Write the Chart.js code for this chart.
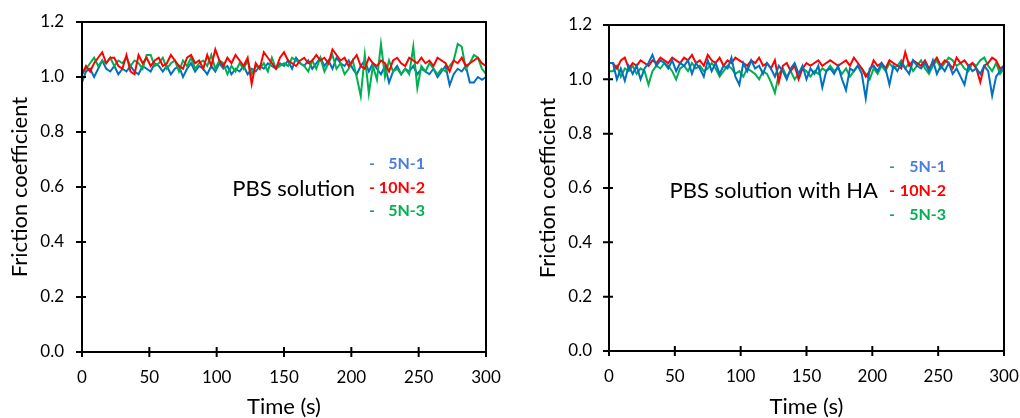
<!DOCTYPE html>
<html>
<head>
<meta charset="utf-8">
<script src="https://cdn.jsdelivr.net/npm/chart.js@4.4.1/dist/chart.umd.min.js"></script>
<style>
body { margin: 0; background: #fff; }
.wrap { display: flex; width: 1020px; height: 418px; }
canvas { display: block; }
</style>
</head>
<body>
<div class="wrap">
  <canvas id="chartPBS" width="510" height="418"></canvas>
  <canvas id="chartHA" width="510" height="418"></canvas>
</div>
<script>
// sampling times (s)
const time = [0,3,6,9,12,15,18,21,24,27,30,33,36,39,42,45,48,51,54,57,
  60,63,66,69,72,75,78,81,84,87,90,93,96,99,102,105,108,111,114,117,
  120,123,126,129,132,135,138,141,144,147,150,153,156,159,162,165,168,171,174,177,
  180,183,186,189,192,195,198,201,204,207,210,213,216,219,222,225,228,231,234,237,
  240,243,246,249,252,255,258,261,264,267,270,273,276,279,282,285,288,291,294,297,300];

const xTicks = [0, 50, 100, 150, 200, 250, 300];
const yTicks = [0, 0.2, 0.4, 0.6, 0.8, 1.0, 1.2];
const seriesNames = ['5N-1', '10N-2', '5N-3'];
const lineColors = ['#0070C0', '#FF0000', '#00B050'];
const keyColors = ['#4A7DE0', '#FF0000', '#00B050'];

// PBS solution
const pbs5N1 = [0.98,1.02,1.03,1.00,1.03,1.06,1.03,1.02,1.04,1.01,
  1.03,1.02,1.04,1.02,1.01,1.04,1.03,1.02,1.05,1.04,
  1.02,1.04,1.01,1.03,1.04,1.00,1.03,1.05,1.02,1.04,
  1.03,1.01,1.04,1.02,1.05,1.03,1.04,1.01,1.03,1.02,
  1.04,1.01,1.03,1.02,1.04,1.03,1.05,1.04,1.03,1.05,
  1.04,1.06,1.03,1.07,1.05,1.04,1.06,1.03,1.05,1.07,
  1.04,1.06,1.03,1.07,1.05,1.04,1.06,1.03,1.01,1.04,
  1.06,1.02,1.05,1.03,1.01,1.04,0.98,1.02,1.04,1.01,
  1.03,1.02,1.04,1.01,1.03,1.02,1.01,1.03,1.00,1.02,
  1.04,0.97,1.01,1.03,1.02,1.04,0.98,0.98,1.00,0.99,
  1.00];
const pbs10N2 = [1.01,1.04,1.02,1.05,1.07,1.09,1.05,1.07,1.07,1.04,
  1.03,1.08,1.02,1.01,1.08,1.05,1.07,1.04,1.06,1.07,
  1.04,1.05,1.08,1.06,1.04,1.03,1.07,1.08,1.05,1.06,
  1.03,1.08,1.04,1.10,1.06,1.04,1.07,1.05,1.08,1.06,
  1.04,1.07,0.975,1.05,1.03,1.09,1.07,1.05,1.03,1.07,
  1.09,1.06,1.05,1.04,1.06,1.07,1.05,1.06,1.08,1.06,
  1.07,1.05,1.10,1.08,1.06,1.07,1.04,1.06,1.08,1.04,
  1.03,1.07,1.05,1.04,1.06,1.05,1.02,1.06,1.07,1.05,
  1.04,1.07,1.06,1.05,1.07,1.05,1.06,1.04,1.07,1.06,
  1.05,1.02,1.06,1.05,1.07,1.04,1.05,1.06,1.07,1.05,
  1.04];
const pbs5N3 = [1.01,1.03,1.05,1.07,1.04,1.06,1.05,1.07,1.04,1.06,
  1.05,1.07,1.04,1.06,1.05,1.03,1.08,1.08,1.04,1.05,
  1.07,1.03,1.05,1.06,1.02,1.06,1.04,1.07,1.03,1.05,
  1.06,1.04,1.08,1.03,1.06,1.05,1.01,1.04,1.02,1.05,
  1.03,1.06,1.01,1.04,1.03,1.05,1.02,1.07,1.03,1.04,
  1.05,1.04,1.07,1.06,1.05,1.04,1.02,1.06,1.03,1.07,
  1.02,1.05,1.08,1.03,1.05,1.01,1.03,1.06,1.00,0.93,
  1.08,0.94,1.04,0.99,1.12,1.00,1.06,1.02,1.03,1.01,
  1.03,1.01,1.11,0.96,1.04,1.02,1.05,1.03,1.01,1.03,
  1.02,1.04,1.06,1.12,1.11,1.03,1.05,1.08,1.07,1.03,
  1.01];

// PBS solution with HA
const ha5N1 = [1.06,1.06,1.00,1.04,0.995,1.05,1.02,1.05,1.00,1.04,
  1.06,1.09,1.05,1.07,1.06,1.04,1.07,1.03,1.06,1.05,
  1.07,1.02,1.06,1.04,1.01,1.07,1.03,1.06,1.02,1.05,
  1.04,1.08,1.01,0.98,1.06,1.03,1.07,1.04,1.05,1.02,
  1.06,1.04,1.01,1.05,1.03,1.00,1.04,1.06,1.02,1.05,
  1.00,1.04,1.02,1.05,0.97,1.03,1.04,1.02,1.05,1.00,
  0.96,1.04,1.03,1.05,1.02,0.93,1.04,1.05,1.03,1.06,
  1.04,0.98,1.05,1.03,1.06,1.04,1.02,1.07,1.05,1.04,
  1.06,1.03,1.07,1.02,1.05,1.03,1.06,1.02,1.04,1.01,
  0.98,1.05,1.03,1.04,1.02,1.05,1.03,0.94,1.01,1.03,
  1.05];
const ha10N2 = [1.06,1.06,1.04,1.07,1.08,1.04,1.06,1.05,1.07,1.06,
  1.05,1.07,1.06,1.08,1.07,1.06,1.08,1.07,1.06,1.08,
  1.07,1.09,1.06,1.07,1.05,1.09,1.07,1.06,1.08,1.05,
  1.07,1.06,1.08,1.07,1.06,1.05,1.07,1.06,1.08,1.05,
  1.06,1.04,1.07,0.99,1.05,1.06,1.03,1.05,1.00,1.04,
  1.06,1.05,1.06,1.07,1.05,1.06,1.07,1.06,1.05,1.06,
  1.07,1.05,1.08,1.06,1.04,1.01,1.03,1.07,1.05,1.06,
  1.04,1.07,1.06,1.05,1.04,1.10,1.05,1.07,1.06,1.05,
  1.07,1.04,1.06,1.08,1.05,1.07,1.06,1.04,1.08,1.06,
  1.07,1.05,1.06,1.04,0.99,1.05,1.06,1.08,1.07,1.04,
  1.05];
const ha5N3 = [1.03,1.03,1.05,1.01,1.04,1.03,1.05,1.02,1.04,1.03,
  0.98,1.03,1.05,1.04,1.06,1.05,1.03,1.00,1.04,1.05,
  1.03,1.06,1.04,1.05,1.03,1.04,1.06,1.04,1.01,1.03,
  1.05,1.04,1.02,1.03,1.01,1.04,1.03,1.02,1.00,1.03,
  1.02,0.99,0.95,1.02,1.04,1.01,1.03,1.00,1.02,1.04,
  1.03,1.01,1.03,1.02,1.04,1.03,1.05,1.03,1.04,1.02,
  1.04,1.01,1.03,1.05,1.04,1.02,1.00,1.04,1.02,1.05,
  1.03,1.06,1.04,1.05,1.07,1.04,1.06,1.03,1.05,1.07,
  1.04,1.02,1.05,1.07,1.04,1.06,1.08,1.07,1.05,1.06,
  1.04,1.03,1.06,1.05,1.07,1.08,1.05,1.03,1.06,1.02,
  1.04];

Chart.defaults.font.family = 'Lato';
Chart.defaults.color = '#000';

// box, crossing tick marks and the in-plot labels
const framePlugin = {
  id: 'frame',
  afterDatasetsDraw(chart, args, opts) {
    const {ctx, chartArea: a, scales: {x, y}} = chart;
    ctx.save();
    ctx.strokeStyle = '#000';
    ctx.lineWidth = 2;
    ctx.strokeRect(a.left, a.top, a.right - a.left, a.bottom - a.top);
    ctx.beginPath();
    x.ticks.forEach(t => {
      const px = x.getPixelForValue(t.value);
      ctx.moveTo(px, a.bottom - 5);
      ctx.lineTo(px, a.bottom + 5);
    });
    y.ticks.forEach(t => {
      const py = y.getPixelForValue(t.value);
      ctx.moveTo(a.left - 6, py);
      ctx.lineTo(a.left + 4, py);
    });
    ctx.stroke();

    ctx.textBaseline = 'middle';
    ctx.fillStyle = '#000';
    ctx.font = '22px Lato';
    ctx.textAlign = 'right';
    ctx.fillText(opts.label, a.left + opts.labelRight, a.top + opts.labelY);
    ctx.font = 'bold 16px Lato';
    seriesNames.forEach((name, i) => {
      const yy = a.top + opts.keyY + i * opts.keyGap;
      ctx.fillStyle = keyColors[i];
      ctx.textAlign = 'left';
      ctx.fillText('-', a.left + opts.dashX, yy);
      ctx.textAlign = 'right';
      ctx.fillText(name, a.left + opts.keyRight, yy);
    });
    ctx.restore();
  }
};

function toPoints(vals) {
  return time.map((t, i) => ({x: t, y: vals[i]}));
}

function makeChart(id, series, orders, p) {
  const ctx = document.getElementById(id).getContext('2d');
  return new Chart(ctx, {
    type: 'line',
    data: {
      datasets: series.map((vals, i) => ({
        label: seriesNames[i],
        data: toPoints(vals),
        borderColor: lineColors[i],
        borderWidth: 2,
        pointRadius: 0,
        tension: 0,
        fill: false,
        order: orders[i]
      }))
    },
    options: {
      responsive: false,
      animation: false,
      layout: {padding: {left: 0, top: p.top, right: p.right, bottom: 0}},
      plugins: {
        legend: {display: false},
        tooltip: {enabled: false},
        frame: p.frame
      },
      scales: {
        x: {
          type: 'linear',
          min: 0,
          max: 300,
          afterBuildTicks: s => { s.ticks = xTicks.map(v => ({value: v})); },
          afterFit: s => { s.height = p.xHeight; s.paddingLeft = 0; s.paddingRight = 0; },
          grid: {display: false, drawTicks: false},
          border: {display: false},
          ticks: {padding: 15, maxRotation: 0, font: {size: 17}, color: '#000'},
          title: {display: true, text: 'Time (s)', font: {size: 22}, padding: {top: 0, bottom: -2}}
        },
        y: {
          min: 0,
          max: 1.2,
          afterBuildTicks: s => { s.ticks = yTicks.map(v => ({value: v})); },
          afterFit: s => { s.width = p.yWidth; s.paddingTop = 0; s.paddingBottom = 0; },
          grid: {display: false, drawTicks: false},
          border: {display: false},
          ticks: {padding: p.yPad, font: {size: 17}, color: '#000', callback: v => v.toFixed(1)},
          title: {display: true, text: 'Friction coefficient', font: {size: 22}, padding: {top: p.titlePad, bottom: 0}}
        }
      }
    },
    plugins: [framePlugin]
  });
}

const chartPBS = makeChart('chartPBS', [pbs5N1, pbs10N2, pbs5N3], [2, 0, 1], {
  top: 22, right: 24, xHeight: 66, yWidth: 82, yPad: 18, titlePad: 7,
  frame: {label: 'PBS solution', labelRight: 273, labelY: 167, dashX: 287, keyRight: 343, keyY: 142, keyGap: 23.5}
});

const chartHA = makeChart('chartHA', [ha5N1, ha10N2, ha5N3], [0, 1, 2], {
  top: 25, right: 16, xHeight: 67, yWidth: 99, yPad: 17, titlePad: 25,
  frame: {label: 'PBS solution with HA', labelRight: 269, labelY: 166, dashX: 280, keyRight: 337, keyY: 142, keyGap: 24}
});
</script>
</body>
</html>
